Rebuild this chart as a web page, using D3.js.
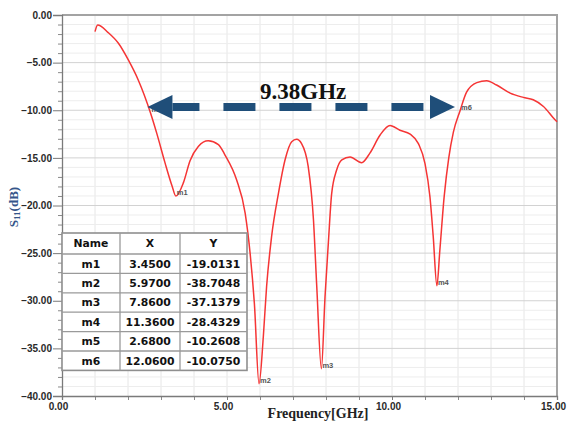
<!DOCTYPE html>
<html>
<head>
<meta charset="utf-8">
<script src="https://cdn.jsdelivr.net/npm/d3@7"></script>
<style>
  html, body { margin: 0; padding: 0; background: #fff; }
  svg { display: block; }
</style>
</head>
<body>
<svg id="chart" width="569" height="421"></svg>
<script>
// Return loss S11 versus frequency
const freqGHz = [
  1.00, 1.08, 1.40, 1.71, 2.01, 2.31, 2.68, 2.87, 3.12, 3.34, 3.45, 3.68, 3.88,
  4.13, 4.43, 4.74, 4.94, 5.29, 5.55, 5.70, 5.83, 5.97, 6.10, 6.20, 6.35, 6.56,
  6.76, 6.96, 7.11, 7.26, 7.46, 7.62, 7.72, 7.86, 7.97, 8.07, 8.17, 8.32, 8.48,
  8.73, 9.08, 9.33, 9.64, 9.94, 10.24, 10.55, 10.80, 11.00, 11.15, 11.25, 11.36,
  11.45, 11.58, 11.72, 11.86, 12.06, 12.26, 12.57, 12.87, 13.17, 13.58, 13.98,
  14.28, 14.59, 14.94, 15.00
];
const s11dB = [
  -1.75, -1.05, -1.85, -2.97, -4.72, -6.82, -10.2608, -12.4, -15.5, -18.0, -19.0131, -17.6, -15.3,
  -13.8, -13.2, -13.6, -14.7, -17.3, -20.8, -25.0, -30.3, -38.7048, -33.8, -28.5, -23.3, -18.7,
  -15.2, -13.3, -13.05, -13.5, -15.9, -21.5, -28.5, -37.1379, -29.6, -24.0, -18.8, -16.3, -15.2,
  -14.9, -15.5, -14.5, -12.6, -11.6, -12.1, -12.5, -13.5, -15.6, -19.1, -23.3, -28.4329,
  -24.7, -19.1, -15.0, -12.3, -10.0750, -8.1, -7.1, -6.9, -7.35, -8.2, -8.65,
  -8.9, -9.6, -11.0, -11.2
];

// Markers
const markerNames = ["m1", "m2", "m3", "m4", "m5", "m6"];
const markerFreq  = [3.45, 5.97, 7.86, 11.36, 2.68, 12.06];
const markerS11   = [-19.0131, -38.7048, -37.1379, -28.4329, -10.2608, -10.0750];

// Axis ticks
const xTicks = [0, 5, 10, 15];
const yTicks = [0, -5, -10, -15, -20, -25, -30, -35, -40];

const svg = d3.select("#chart");
const plot = { left: 62, right: 557, top: 15, bottom: 396 };

const x = d3.scaleLinear().domain([0, 15]).range([plot.left, plot.right]);
const y = d3.scaleLinear().domain([0, -40]).range([plot.top, plot.bottom]);

// Grid
const grid = svg.append("g");
grid.selectAll("line.vg").data(d3.range(1, 15)).join("line")
  .attr("x1", d => x(d)).attr("x2", d => x(d))
  .attr("y1", plot.top).attr("y2", plot.bottom)
  .attr("stroke", "#e6e6e6").attr("stroke-width", 1);
grid.selectAll("line.hg").data(d3.range(-1, -40, -1)).join("line")
  .attr("x1", plot.left).attr("x2", plot.right)
  .attr("y1", d => y(d)).attr("y2", d => y(d))
  .attr("stroke", d => d % 5 === 0 ? "#d2d2d2" : "#ededed").attr("stroke-width", 1);

// Frame (top and right)
svg.append("path")
  .attr("d", `M${plot.left},${plot.top}H${plot.right}V${plot.bottom}`)
  .attr("fill", "none").attr("stroke", "#a3a3a3").attr("stroke-width", 2);

// Minor ticks
svg.append("g").attr("transform", `translate(${plot.left},0)`)
  .call(d3.axisLeft(y).tickValues(d3.range(0, -41, -1).filter(d => d % 5 !== 0)).tickSize(4).tickFormat(""))
  .call(g => g.select(".domain").remove())
  .call(g => g.selectAll("line").attr("stroke", "#8a8a8a"));
svg.append("g").attr("transform", `translate(0,${plot.bottom})`)
  .call(d3.axisBottom(x).tickValues(d3.range(1, 15).filter(d => d % 5 !== 0)).tickSize(4).tickFormat(""))
  .call(g => g.select(".domain").remove())
  .call(g => g.selectAll("line").attr("stroke", "#8a8a8a"));

// Major axes
const yAxis = svg.append("g").attr("transform", `translate(${plot.left},0)`)
  .call(d3.axisLeft(y).tickValues(yTicks).tickSize(9).tickPadding(1).tickFormat(d3.format(".2f")));
const xAxis = svg.append("g").attr("transform", `translate(0,${plot.bottom})`)
  .call(d3.axisBottom(x).tickValues(xTicks).tickSize(4).tickPadding(3).tickFormat(d3.format(".2f")));
[yAxis, xAxis].forEach(a => {
  a.select(".domain").attr("stroke", "#7a7a7a").attr("stroke-width", 1.3);
  a.selectAll(".tick line").attr("stroke", "#7a7a7a");
  a.selectAll(".tick text")
    .attr("font-family", "'Liberation Sans', Arial, sans-serif")
    .attr("font-weight", "bold").attr("font-size", 10).attr("fill", "#2a2a2a");
});
xAxis.selectAll(".tick text").attr("dx", -4);

// Axis titles
svg.append("text")
  .attr("x", 318).attr("y", 418).attr("text-anchor", "middle")
  .attr("font-family", "'Liberation Serif', 'Times New Roman', serif")
  .attr("font-weight", "bold").attr("font-size", 14).attr("fill", "#222")
  .text("Frequency[GHz]");
const yTitle = svg.append("text")
  .attr("transform", "translate(18,207) rotate(-90)").attr("text-anchor", "middle")
  .attr("font-family", "'Liberation Serif', 'Times New Roman', serif")
  .attr("font-weight", "bold").attr("font-size", 13).attr("fill", "#35558a");
yTitle.append("tspan").text("S");
yTitle.append("tspan").attr("font-size", 9).attr("dy", 2).text("11");
yTitle.append("tspan").attr("dy", -2).text("(dB)");

// S11 curve
const pts = freqGHz.map((f, i) => [f, s11dB[i]]);
svg.append("path")
  .datum(pts)
  .attr("fill", "none").attr("stroke", "#f53535").attr("stroke-width", 1.5)
  .attr("stroke-linejoin", "round")
  .attr("d", d3.line().x(d => x(d[0])).y(d => y(d[1])).curve(d3.curveMonotoneX));

// Marker labels
svg.selectAll("text.mk").data(markerNames).join("text")
  .attr("x", (d, i) => x(markerFreq[i]) + 1)
  .attr("y", (d, i) => y(markerS11[i]) - 1)
  .attr("font-family", "'Liberation Sans', Arial, sans-serif")
  .attr("font-size", 7.5).attr("font-weight", "bold").attr("fill", "#555")
  .text(d => d);

// Marker table
const tbl = { left: plot.left, top: 233, cols: [62, 120, 180, 247], headH: 21, rowH: 19.4 };
const tblBottom = tbl.top + tbl.headH + tbl.rowH * markerNames.length;
const tg = svg.append("g");
tg.append("rect")
  .attr("x", tbl.cols[0]).attr("y", tbl.top)
  .attr("width", tbl.cols[3] - tbl.cols[0]).attr("height", tblBottom - tbl.top)
  .attr("fill", "#fff").attr("stroke", "#8f8f8f").attr("stroke-width", 1.6);
tg.selectAll("line.c").data(tbl.cols.slice(1, 3)).join("line")
  .attr("x1", d => d).attr("x2", d => d).attr("y1", tbl.top).attr("y2", tblBottom)
  .attr("stroke", "#9a9a9a").attr("stroke-width", 1.3);
tg.selectAll("line.r").data(d3.range(markerNames.length)).join("line")
  .attr("x1", tbl.cols[0]).attr("x2", tbl.cols[3])
  .attr("y1", i => tbl.top + tbl.headH + tbl.rowH * i)
  .attr("y2", i => tbl.top + tbl.headH + tbl.rowH * i)
  .attr("stroke", "#9a9a9a").attr("stroke-width", 1.3);
const colMid = [0, 1, 2].map(i => (tbl.cols[i] + tbl.cols[i + 1]) / 2);
const rows = [["Name", "X", "Y"]].concat(
  markerNames.map((n, i) => [n, markerFreq[i].toFixed(4), markerS11[i].toFixed(4)])
);
rows.forEach((r, ri) => {
  const cy = ri === 0 ? tbl.top + tbl.headH / 2 : tbl.top + tbl.headH + tbl.rowH * (ri - 0.5);
  r.forEach((t, ci) => {
    tg.append("text")
      .attr("x", colMid[ci]).attr("y", cy).attr("dy", "0.36em")
      .attr("text-anchor", "middle")
      .attr("font-family", "'DejaVu Sans', Verdana, sans-serif")
      .attr("font-weight", "bold").attr("font-size", 10.8).attr("fill", "#111")
      .text(t);
  });
});

// Bandwidth arrow between m5 and m6
const iA = markerNames.indexOf("m5"), iB = markerNames.indexOf("m6");
const bw = markerFreq[iB] - markerFreq[iA];
const ay = y(-9.65);
const xa = x(markerFreq[iA]) - 3, xb = x(markerFreq[iB]) - 5;
const headL = 25, headH = 12, arrowColor = "#1f4e79";
svg.append("line")
  .attr("x1", xa + headL).attr("x2", xb - headL).attr("y1", ay).attr("y2", ay)
  .attr("stroke", arrowColor).attr("stroke-width", 8)
  .attr("stroke-dasharray", "32 24").attr("stroke-dashoffset", 5);
svg.append("path")
  .attr("d", `M${xa},${ay}L${xa + headL},${ay - headH}L${xa + headL},${ay + headH}Z`)
  .attr("fill", arrowColor);
svg.append("path")
  .attr("d", `M${xb},${ay}L${xb - headL},${ay - headH}L${xb - headL},${ay + headH}Z`)
  .attr("fill", arrowColor);
svg.append("text")
  .attr("x", (xa + xb) / 2 + 2).attr("y", ay - 8).attr("text-anchor", "middle")
  .attr("font-family", "'Liberation Serif', 'Times New Roman', serif")
  .attr("font-weight", "bold").attr("font-size", 23).attr("fill", "#111")
  .text(bw.toFixed(2) + "GHz");
</script>
</body>
</html>
